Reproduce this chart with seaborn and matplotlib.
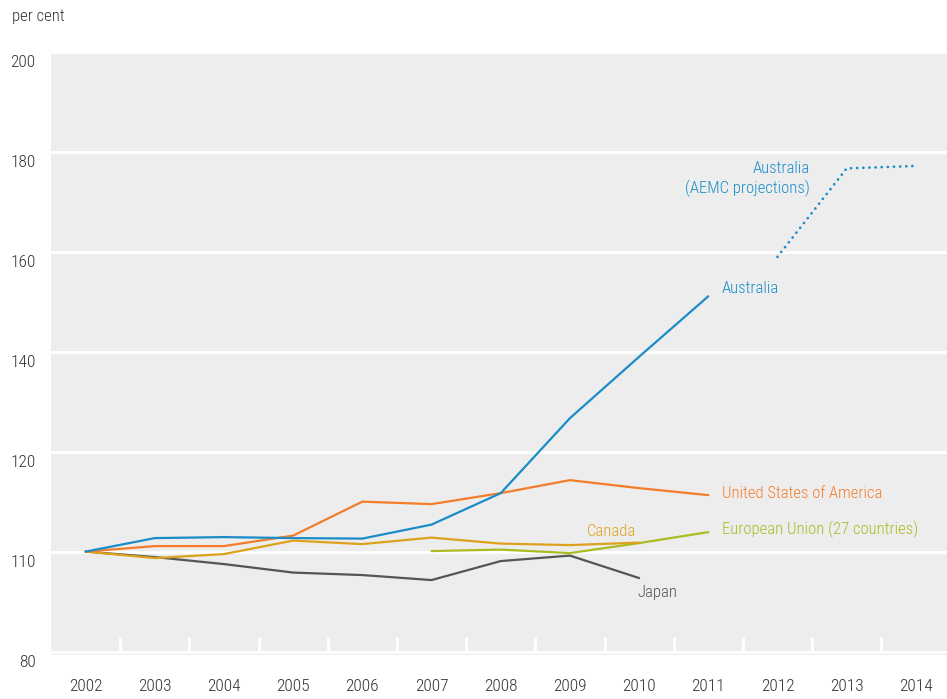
import numpy as np
import pandas as pd
import matplotlib
matplotlib.use("Agg")
import matplotlib.pyplot as plt
import matplotlib.transforms as mtransforms
from matplotlib import font_manager
import seaborn as sns

# ---------------- data ----------------
years_all = [2002, 2003, 2004, 2005, 2006, 2007, 2008, 2009, 2010, 2011, 2012, 2013, 2014]
year_labels = [str(y) for y in years_all]

aus_years = [2002, 2003, 2004, 2005, 2006, 2007, 2008, 2009, 2010, 2011]
aus_values = [100, 102.7, 102.9, 102.7, 102.6, 105.4, 111.7, 126.7, 139.0, 151.1]

aemc_years = [2012, 2013, 2014]
aemc_values = [159.0, 176.7, 177.2]

usa_years = [2002, 2003, 2004, 2005, 2006, 2007, 2008, 2009, 2010, 2011]
usa_values = [100, 101.1, 101.1, 103.2, 110.0, 109.5, 111.7, 114.3, 112.7, 111.3]

can_years = [2002, 2003, 2004, 2005, 2006, 2007, 2008, 2009, 2010]
can_values = [100, 98.7, 99.5, 102.2, 101.5, 102.8, 101.6, 101.3, 101.8]

eu_years = [2007, 2008, 2009, 2010, 2011]
eu_values = [100.1, 100.4, 99.7, 101.7, 103.9]

jpn_years = [2002, 2003, 2004, 2005, 2006, 2007, 2008, 2009, 2010]
jpn_values = [100, 98.9, 97.5, 95.8, 95.3, 94.3, 98.1, 99.2, 94.7]

y_ticks = [80, 100, 120, 140, 160, 180, 200]
y_tick_labels = ["80", "110", "120", "140", "160", "180", "200"]

# ---------------- style ----------------
sns.set_theme(style="darkgrid", rc={
    "axes.facecolor": "#ededed",
    "grid.color": "white",
    "grid.linewidth": 2.0,
})

# pick a condensed font if one is installed
names = {f.name for f in font_manager.fontManager.ttflist}
cond = [f for f in font_manager.fontManager.ttflist
        if f.name == "DejaVu Sans" and str(f.stretch) in ("condensed", "semi-condensed", "600", "700")]
family = None
stretch = "normal"
fs = 12.5
for cand in ["Roboto Condensed", "Liberation Sans Narrow", "Open Sans Condensed", "Noto Sans Condensed"]:
    if cand in names:
        family = cand
        break
if family is None and cond:
    family = "DejaVu Sans"
    stretch = "condensed"
    fs = 11.5
if family is None:
    family = "Roboto"
    fs = 11.0
plt.rcParams["font.family"] = [family, "DejaVu Sans"]
plt.rcParams["font.stretch"] = stretch
plt.rcParams["font.weight"] = "light"
fs_ann = fs - 0.5

c_aus = "#1a8dc8"
c_usa = "#f47d2a"
c_can = "#dea11b"
c_eu = "#abbb22"
c_jpn = "#555555"
c_txt = "#333333"

fig = plt.figure(figsize=(9.47, 6.99), dpi=100)
ax = fig.add_axes([51 / 947, 1 - 655 / 699, 1 - 51 / 947, (655 - 52) / 699])

def draw(xs, ys, color, lw=1.6, **kw):
    df = pd.DataFrame({"year": xs, "value": ys})
    sns.lineplot(data=df, x="year", y="value", color=color, ax=ax, linewidth=lw, **kw)

draw(jpn_years, jpn_values, c_jpn)
draw(eu_years, eu_values, c_eu)
draw(can_years, can_values, c_can)
draw(usa_years, usa_values, c_usa)
draw(aus_years, aus_values, c_aus)
draw(aemc_years, aemc_values, c_aus, lw=2.0, linestyle=(0, (0.01, 2.2)))
ax.lines[-1].set_dash_capstyle("round")

ax.set_xlim(2001.5, 2014.45)
ax.set_ylim(79.3, 200.0)
ax.set_xlabel("")
ax.set_ylabel("")
ax.grid(axis="x", visible=False)
for s in ax.spines.values():
    s.set_visible(False)

ax.set_yticks(y_ticks)
ax.set_yticklabels(y_tick_labels)
ax.set_xticks(years_all)
ax.set_xticklabels(year_labels)
ax.tick_params(axis="both", length=0, labelsize=fs, labelcolor=c_txt)
ax.tick_params(axis="y", pad=11)
ax.tick_params(axis="x", pad=17)
offset = mtransforms.ScaledTranslation(0, -9 / 100, fig.dpi_scale_trans)
for lab in ax.get_yticklabels():
    lab.set_transform(lab.get_transform() + offset)

# white separator ticks at bottom
trans = mtransforms.blended_transform_factory(ax.transData, ax.transAxes)
for b in np.arange(2002.5, 2014, 1.0):
    ax.plot([b, b], [0.007, 0.030], color="white", lw=2.0, transform=trans,
            solid_capstyle="butt", zorder=1)

ax.text(2011.2, 152.6, "Australia", color=c_aus, fontsize=fs_ann, va="center", ha="left")
ax.text(2012.47, 174.6, "Australia\n(AEMC projections)", color=c_aus, fontsize=fs_ann,
        va="center", ha="right", multialignment="right", linespacing=1.3)
ax.text(2011.2, 111.7, "United States of America", color=c_usa, fontsize=fs_ann, va="center", ha="left")
ax.text(2009.25, 104.1, "Canada", color=c_can, fontsize=fs_ann, va="center", ha="left")
ax.text(2011.2, 104.5, "European Union (27 countries)", color=c_eu, fontsize=fs_ann, va="center", ha="left")
ax.text(2009.98, 91.8, "Japan", color=c_jpn, fontsize=fs_ann, va="center", ha="left")

fig.text(12 / 947, 1 - 17 / 699, "per cent", color=c_txt, fontsize=fs - 0.5, va="center", ha="left")

fig.savefig("out.png", dpi=100, facecolor="white")
